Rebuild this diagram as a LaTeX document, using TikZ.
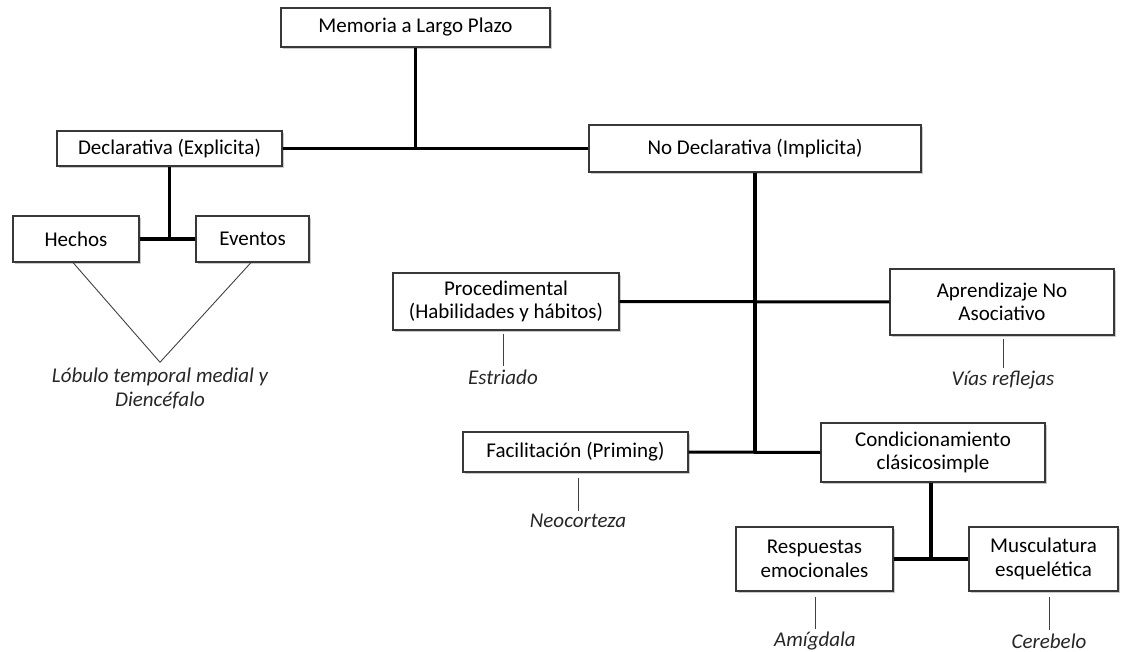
\documentclass[tikz,border=0pt]{standalone}
\usepackage{fontspec}
\setmainfont{Carlito}
\usetikzlibrary{shadows}
\begin{document}
\begin{tikzpicture}[x=1pt,y=-1pt,
  box/.style={draw=black!78,line width=1.1pt,fill=white,rectangle,inner sep=0pt,
    align=center,font=\fontsize{21}{23.5}\selectfont,
    drop shadow={shadow xshift=1.6pt,shadow yshift=-1.6pt,opacity=0.35,fill=black!60}},
  lbl/.style={font=\fontsize{21}{24}\selectfont\itshape,align=center,text=black!85,inner sep=3pt},
  trunk/.style={line width=3.6pt,black},
  branch/.style={line width=3pt,black},
  thinline/.style={line width=0.9pt,black!75}]
\useasboundingbox (0,0) rectangle (1121,652);

% category boxes
\node[box,minimum width=269pt,minimum height=39pt] (mem) at (415.5,27.5) {Memoria a Largo Plazo};
\node[box,minimum width=225pt,minimum height=35pt] (decl) at (169.5,148.5) {Declarativa (Explicita)};
\node[box,minimum width=332pt,minimum height=47pt] (nodecl) at (755,148.5) {No Declarativa (Implicita)};
\node[box,minimum width=126pt,minimum height=46pt] (hechos) at (76,239) {Hechos};
\node[box,minimum width=113pt,minimum height=46pt] (eventos) at (252.5,239) {Eventos};
\node[box,minimum width=226pt,minimum height=57pt] (proc) at (506,301.5) {Procedimental\\(Habilidades y hábitos)};
\node[box,minimum width=224pt,minimum height=66pt] (aprend) at (1002,302) {Aprendizaje No\\Asociativo};
\node[box,minimum width=225pt,minimum height=40pt] (facil) at (575.5,452) {Facilitación (Priming)};
\node[box,minimum width=224pt,minimum height=59pt] (cond) at (933,452.5) {Condicionamiento\\clásicosimple};
\node[box,minimum width=157pt,minimum height=64pt] (resp) at (814.5,559) {Respuestas\\emocionales};
\node[box,minimum width=149pt,minimum height=64pt] (musc) at (1043.5,559) {Musculatura\\esquelética};

% brain structures
\node[lbl] (lob) at (160,388) {Lóbulo temporal medial y\\Diencéfalo};
\node[lbl] (estr) at (503,377) {Estriado};
\node[lbl] (vias) at (1003,380) {Vías reflejas};
\node[lbl] (neo) at (578,521) {Neocorteza};
\node[lbl] (amig) at (815,641) {Amígdala};
\node[lbl] (cereb) at (1049,641) {Cerebelo};

% tree connectors
\draw[trunk] (mem.south) -- (mem.south |- decl.east);
\draw[branch] (decl.east) -- (nodecl.west);
\draw[trunk] (decl.south) -- (decl.south |- hechos.east);
\draw[trunk] (hechos.east) -- (eventos.west);
\draw[line width=4.4pt] (nodecl.south) -- (nodecl.south |- facil.east);
\draw[branch] (proc.east) -- (aprend.west);
\draw[branch] (facil.east) -- (cond.west);
\draw[trunk] ([xshift=-2pt]cond.south) -- ([xshift=-2pt]cond.south |- resp.east);
\draw[line width=4pt] (resp.east) -- (musc.west);

% links to brain structures
\coordinate (meet) at ([yshift=2pt]lob.north);
\draw[thinline] ([xshift=-3pt]hechos.south) -- (meet) -- ([xshift=-1.5pt]eventos.south);
\draw[thinline,shorten <=3pt] (proc.south -| estr) -- (estr.north);
\draw[thinline,shorten <=3pt] (aprend.south -| vias) -- (vias.north);
\draw[thinline,shorten <=5pt] (facil.south -| neo) -- (neo.north);
\draw[thinline,shorten <=5pt] (resp.south -| amig) -- (amig.north);
\draw[thinline,shorten <=5pt] (musc.south -| cereb) -- (cereb.north);
\end{tikzpicture}
\end{document}
